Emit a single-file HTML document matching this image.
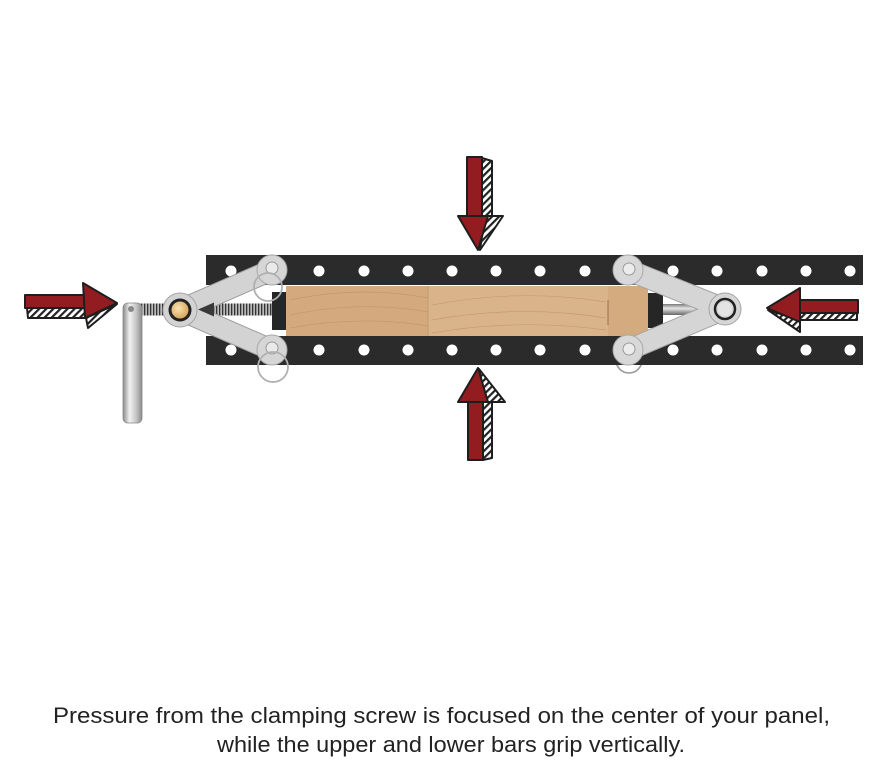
<!DOCTYPE html>
<html><head><meta charset="utf-8"><style>
html,body{margin:0;padding:0;background:#fff;}
svg{display:block;}
</style></head><body>
<svg width="877" height="768" viewBox="0 0 877 768" xmlns="http://www.w3.org/2000/svg">
<defs>
<pattern id="hatch" width="5" height="5" patternUnits="userSpaceOnUse" patternTransform="rotate(45)">
<rect width="5" height="5" fill="#fff"/><rect width="2.2" height="5" fill="#222"/>
</pattern>
<pattern id="thread" width="3" height="12" patternUnits="userSpaceOnUse">
<rect width="3" height="12" fill="#bbb"/><rect width="1.3" height="12" fill="#333"/>
</pattern>
<linearGradient id="handle" x1="0" x2="1" y1="0" y2="0">
<stop offset="0" stop-color="#8a8a8a"/><stop offset="0.35" stop-color="#f2f2f2"/><stop offset="0.7" stop-color="#c4c4c4"/><stop offset="1" stop-color="#8a8a8a"/>
</linearGradient>
<linearGradient id="rod" x1="0" x2="0" y1="0" y2="1">
<stop offset="0" stop-color="#777"/><stop offset="0.4" stop-color="#e6e6e6"/><stop offset="1" stop-color="#666"/>
</linearGradient>
<radialGradient id="brass" cx="0.4" cy="0.4" r="0.6">
<stop offset="0" stop-color="#fbe3b0"/><stop offset="1" stop-color="#d9a860"/>
</radialGradient>
</defs>

<!-- key ring behind right clamp -->
<circle cx="629" cy="360" r="13" fill="none" stroke="#9a9a9a" stroke-width="1.6"/>

<!-- bars -->
<rect x="206" y="255" width="657" height="30" fill="#2b2b2b"/>
<rect x="206" y="336" width="657" height="29" fill="#2b2b2b"/>
<g fill="#fff">
<circle cx="231" cy="271" r="5.5"/><circle cx="275" cy="271" r="5.5"/><circle cx="319" cy="271" r="5.5"/><circle cx="364" cy="271" r="5.5"/><circle cx="408" cy="271" r="5.5"/><circle cx="452" cy="271" r="5.5"/><circle cx="496" cy="271" r="5.5"/><circle cx="540" cy="271" r="5.5"/><circle cx="585" cy="271" r="5.5"/><circle cx="629" cy="271" r="5.5"/><circle cx="673" cy="271" r="5.5"/><circle cx="717" cy="271" r="5.5"/><circle cx="762" cy="271" r="5.5"/><circle cx="806" cy="271" r="5.5"/><circle cx="850" cy="271" r="5.5"/>
<circle cx="231" cy="350" r="5.5"/><circle cx="275" cy="350" r="5.5"/><circle cx="319" cy="350" r="5.5"/><circle cx="364" cy="350" r="5.5"/><circle cx="408" cy="350" r="5.5"/><circle cx="452" cy="350" r="5.5"/><circle cx="496" cy="350" r="5.5"/><circle cx="540" cy="350" r="5.5"/><circle cx="585" cy="350" r="5.5"/><circle cx="629" cy="350" r="5.5"/><circle cx="673" cy="350" r="5.5"/><circle cx="717" cy="350" r="5.5"/><circle cx="762" cy="350" r="5.5"/><circle cx="806" cy="350" r="5.5"/><circle cx="850" cy="350" r="5.5"/>
</g>

<!-- wood -->
<rect x="286" y="286" width="362" height="50" fill="#d3a97d"/>
<rect x="428" y="286" width="180" height="50" fill="#d9b48a"/>
<rect x="608" y="286" width="40" height="50" fill="#d4aa7f"/>
<line x1="428" y1="286" x2="428" y2="336" stroke="#c39a6e" stroke-width="1"/>
<line x1="608" y1="300" x2="608" y2="325" stroke="#9c6f48" stroke-width="1"/>
<g fill="none" stroke="#b98d60" stroke-width="0.7" opacity="0.6">
<path d="M290 300 Q360 285 428 298"/><path d="M290 315 Q360 300 428 312"/><path d="M290 328 Q360 315 428 326"/>
<path d="M432 305 Q520 288 606 302"/><path d="M432 320 Q520 304 606 318"/><path d="M432 333 Q520 318 606 330"/>
</g>

<!-- black end pieces -->
<rect x="272" y="292" width="14" height="38" fill="#262626"/>
<rect x="648" y="293" width="15" height="35" fill="#262626"/>

<!-- right rod -->
<path d="M663 304 L700 304 L713 309.5 L700 315 L663 315 Z" fill="url(#rod)"/>

<!-- left screw -->
<rect x="186" y="303.5" width="86" height="12" fill="url(#thread)"/>
<rect x="140" y="303.5" width="34" height="12" fill="url(#thread)"/>

<!-- handle -->
<rect x="123" y="303" width="19" height="120" rx="5" fill="url(#handle)" stroke="#888" stroke-width="0.8"/>
<circle cx="131" cy="309" r="3" fill="#888"/>

<!-- left clamp arms -->
<g stroke="#a0a0a0" stroke-width="22" stroke-linecap="round">
<line x1="180" y1="310" x2="272" y2="270"/><line x1="180" y1="310" x2="272" y2="350"/>
</g>
<g stroke="#d3d3d3" stroke-width="20" stroke-linecap="round">
<line x1="180" y1="310" x2="272" y2="270"/><line x1="180" y1="310" x2="272" y2="350"/>
</g>
<path d="M198 309.5 L214 302.5 L214 316.5 Z" fill="#3a3a3a"/>
<circle cx="272" cy="270" r="15" fill="#d6d6d6" stroke="#a8a8a8" stroke-width="1"/>
<circle cx="272" cy="350" r="15" fill="#d6d6d6" stroke="#a8a8a8" stroke-width="1"/>
<circle cx="272" cy="268" r="6" fill="#eaeaea" stroke="#999" stroke-width="1"/>
<circle cx="272" cy="348" r="6" fill="#eaeaea" stroke="#999" stroke-width="1"/>
<circle cx="268" cy="287" r="14" fill="none" stroke="#b0b0b0" stroke-width="1.8"/>
<circle cx="273" cy="367" r="15" fill="none" stroke="#b0b0b0" stroke-width="1.8"/>
<circle cx="180" cy="310" r="17" fill="#d3d3d3" stroke="#a5a5a5" stroke-width="1"/>
<circle cx="180" cy="310" r="11.5" fill="#222"/>
<circle cx="180" cy="310" r="8.5" fill="url(#brass)"/>

<!-- right clamp arms -->
<g stroke="#a2a2a2" stroke-width="22" stroke-linecap="round">
<line x1="628" y1="270" x2="725" y2="309"/><line x1="628" y1="350" x2="725" y2="309"/>
</g>
<g stroke="#d5d5d5" stroke-width="20" stroke-linecap="round">
<line x1="628" y1="270" x2="725" y2="309"/><line x1="628" y1="350" x2="725" y2="309"/>
</g>
<circle cx="628" cy="270" r="15" fill="#d8d8d8" stroke="#a8a8a8" stroke-width="1"/>
<circle cx="628" cy="350" r="15" fill="#d8d8d8" stroke="#a8a8a8" stroke-width="1"/>
<circle cx="629" cy="269" r="6" fill="#ececec" stroke="#999" stroke-width="1"/>
<circle cx="629" cy="349" r="6" fill="#ececec" stroke="#999" stroke-width="1"/>
<circle cx="725" cy="309" r="16" fill="#d6d6d6" stroke="#a5a5a5" stroke-width="1"/>
<circle cx="725" cy="309" r="10" fill="none" stroke="#222" stroke-width="2.5"/>
<circle cx="725" cy="309" r="7" fill="#e4e4e4"/>

<!-- arrows -->
<g stroke="#1e1e1e" stroke-width="2" stroke-linejoin="round">
<!-- top (down) -->
<polygon points="482,158 492,161 492,216 482,216" fill="url(#hatch)"/>
<polygon points="485,216 503,216 480,250" fill="url(#hatch)"/>
<rect x="467" y="157" width="15" height="60" fill="#921c1f"/>
<polygon points="458,216 488,216 478,250" fill="#921c1f"/>
<!-- bottom (up) -->
<polygon points="483,402 492,402 492,458 483,460" fill="url(#hatch)"/>
<polygon points="479,369 505,402 486,402" fill="url(#hatch)"/>
<rect x="468" y="400" width="15" height="60" fill="#921c1f"/>
<polygon points="478,368 458,402 488,402" fill="#921c1f"/>
<!-- left (right-pointing) -->
<polygon points="27,308 86,308 86,318 28,318" fill="url(#hatch)"/>
<polygon points="86,318 117,304 88,328" fill="url(#hatch)"/>
<rect x="25" y="295" width="60" height="13" fill="#921c1f"/>
<polygon points="83,283 117,303 85,318" fill="#921c1f"/>
<!-- right (left-pointing) -->
<polygon points="800,313 857,313 857,320 800,320" fill="url(#hatch)"/>
<polygon points="768,310 800,320 800,332" fill="url(#hatch)"/>
<rect x="800" y="300" width="58" height="13" fill="#921c1f"/>
<polygon points="767,308 800,288 800,322" fill="#921c1f"/>
</g>

<!-- caption -->
<g font-family="'Liberation Sans', sans-serif" font-size="22" fill="#222">
<text x="53" y="723" textLength="777" lengthAdjust="spacingAndGlyphs">Pressure from the clamping screw is focused on the center of your panel,</text>
<text x="217" y="752" textLength="468" lengthAdjust="spacingAndGlyphs">while the upper and lower bars grip vertically.</text>
</g>
</svg>
</body></html>
